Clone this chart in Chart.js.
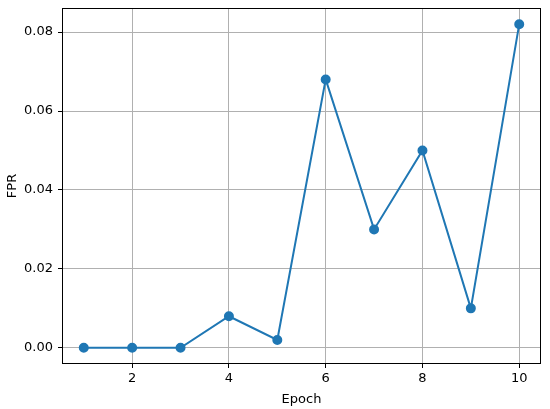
<!DOCTYPE html>
<html>
<head>
<meta charset="utf-8">
<script src="https://cdn.jsdelivr.net/npm/chart.js@4"></script>
<style>
	html, body { margin: 0; padding: 0; background: #fff; }
	#wrap { width: 550px; height: 409px; }
</style>
</head>
<body>
<div id="wrap"><canvas id="fprChart" width="550" height="409"></canvas></div>
<script>
const epochs = [1, 2, 3, 4, 5, 6, 7, 8, 9, 10];
const fprValues = [0.0, 0.0, 0.0, 0.008, 0.002, 0.068, 0.03, 0.05, 0.01, 0.082];
const xTicks = [2, 4, 6, 8, 10];
const yTicks = [0.0, 0.02, 0.04, 0.06, 0.08];

const frameBorder = {
	id: 'frameBorder',
	afterDraw(chart) {
		const { ctx, chartArea } = chart;
		ctx.save();
		ctx.strokeStyle = '#000';
		ctx.lineWidth = 1;
		ctx.strokeRect(Math.round(chartArea.left) + 0.5, Math.round(chartArea.top) + 0.5,
			Math.round(chartArea.width) - 1, Math.round(chartArea.height) - 1);
		ctx.restore();
	},
};

Chart.defaults.font.family = '"DejaVu Sans", sans-serif';
Chart.defaults.font.size = 13;
Chart.defaults.color = '#000';

const ctx = document.getElementById('fprChart').getContext('2d');
new Chart(ctx, {
	type: 'line',
	data: {
		datasets: [
			{
				label: 'FPR',
				data: epochs.map((e, i) => ({ x: e, y: fprValues[i] })),
				borderColor: '#1f77b4',
				backgroundColor: '#1f77b4',
				borderWidth: 2,
				pointRadius: 4,
				pointHoverRadius: 4,
				fill: false,
				tension: 0,
			},
		],
	},
	options: {
		responsive: false,
		animation: false,
		plugins: {
			legend: { display: false },
			tooltip: { enabled: false },
		},
		layout: { padding: { left: 0, top: 8, right: 9, bottom: 0 } },
		scales: {
			x: {
				type: 'linear',
				min: 0.55,
				max: 10.45,
				afterBuildTicks: (axis) => { axis.ticks = xTicks.map((v) => ({ value: v })); },
				afterFit: (axis) => { axis.height = 45; axis.paddingLeft = 0; axis.paddingRight = 0; },
				ticks: { padding: 3, callback: (v) => String(v) },
				grid: { color: '#b0b0b0', lineWidth: 1, tickLength: 4, tickColor: '#000' },
				border: { display: false },
				title: { display: true, text: 'Epoch', padding: { top: 0, bottom: 2 } },
			},
			y: {
				type: 'linear',
				min: -0.0041,
				max: 0.0861,
				afterBuildTicks: (axis) => { axis.ticks = yTicks.map((v) => ({ value: v })); },
				afterFit: (axis) => { axis.width = 62; axis.paddingTop = 0; axis.paddingBottom = 0; },
				ticks: { padding: 5, callback: (v) => v.toFixed(2) },
				grid: { color: '#b0b0b0', lineWidth: 1, tickLength: 4, tickColor: '#000' },
				border: { display: false },
				title: { display: true, text: 'FPR', padding: { top: 5, bottom: 0 } },
			},
		},
	},
	plugins: [frameBorder],
});
</script>
</body>
</html>
